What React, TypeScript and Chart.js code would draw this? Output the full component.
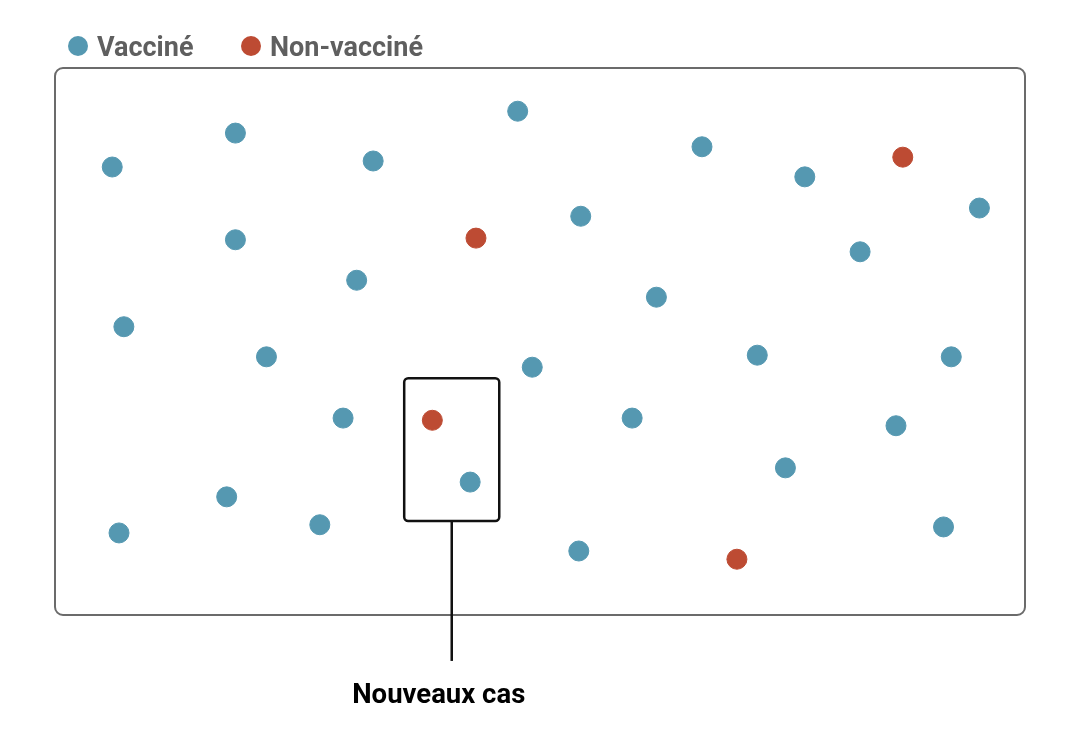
import React, { useEffect, useRef } from "react";
import { Chart, registerables } from "chart.js";

Chart.register(...registerables);

const seriesLabels = ["Vacciné", "Non-vacciné"];
const seriesColors = ["#5598B1", "#BD4B33"];

const vaccineX = [5.9, 18.6, 32.8, 47.7, 66.7, 77.3, 95.3, 54.2, 18.6, 83.0, 31.1, 62.0, 7.1, 21.8, 49.2, 72.4, 92.4, 29.7, 59.5, 86.7, 42.8, 75.3, 17.7, 27.3, 6.6, 54.0, 91.6];
const vaccineY = [81.9, 88.1, 83.0, 92.1, 85.6, 80.1, 74.4, 72.9, 68.6, 66.4, 61.2, 58.1, 52.7, 47.2, 45.3, 47.5, 47.2, 36.0, 36.0, 34.6, 24.3, 26.9, 21.6, 16.5, 15.0, 11.7, 16.1];

const unvaxX = [87.4, 43.4, 38.9, 70.3];
const unvaxY = [83.7, 68.9, 35.6, 10.2];

// highlight box: [xMin, xMax, yMin, yMax] in data units
const boxRange = [36.0, 45.8, 17.2, 43.3];
const calloutX = 40.9;
const calloutEndY = -8.4;
const calloutLabel = "Nouveaux cas";

const annotationPlugin = {
  id: "customDraw",
  beforeDatasetsDraw(chart: any) {
    const { ctx, chartArea } = chart;
    const { left, top, right, bottom } = chartArea;
    ctx.save();
    ctx.strokeStyle = "#6b6b6b";
    ctx.lineWidth = 2;
    ctx.beginPath();
    ctx.roundRect(left, top, right - left, bottom - top, 8);
    ctx.stroke();
    ctx.restore();
  },
  afterDatasetsDraw(chart: any) {
    const { ctx, scales } = chart;
    const xs = scales.x;
    const ys = scales.y;
    ctx.save();
    const x0 = xs.getPixelForValue(boxRange[0]);
    const x1 = xs.getPixelForValue(boxRange[1]);
    const y0 = ys.getPixelForValue(boxRange[3]);
    const y1 = ys.getPixelForValue(boxRange[2]);
    ctx.strokeStyle = "#111";
    ctx.lineWidth = 2.5;
    ctx.beginPath();
    ctx.roundRect(x0, y0, x1 - x0, y1 - y0, 4);
    ctx.stroke();
    const lx = xs.getPixelForValue(calloutX);
    const ly = ys.getPixelForValue(calloutEndY);
    ctx.lineWidth = 2.5;
    ctx.beginPath();
    ctx.moveTo(lx, y1 + 1);
    ctx.lineTo(lx, ly);
    ctx.stroke();
    ctx.fillStyle = "#000";
    ctx.font = "bold 27.5px Roboto";
    ctx.textAlign = "center";
    ctx.textBaseline = "middle";
    ctx.fillText(calloutLabel, lx - 13, ly + 35);

    // legend
    ctx.font = "bold 27px Roboto";
    ctx.textAlign = "left";
    let cx = 78;
    const cy = 46;
    chart.data.datasets.forEach((ds: any) => {
      ctx.fillStyle = ds.backgroundColor;
      ctx.beginPath();
      ctx.arc(cx, cy, 10, 0, Math.PI * 2);
      ctx.fill();
      ctx.fillStyle = "#5f5f5f";
      ctx.fillText(ds.label, cx + 19, cy + 3);
      cx += 173;
    });
    ctx.restore();
  },
};

export default function App() {
  const ref = useRef<HTMLCanvasElement>(null);
  useEffect(() => {
    document.body.style.margin = "0";
    const chart = new Chart(ref.current as HTMLCanvasElement, {
      type: "scatter",
      data: {
        datasets: [
          {
            label: seriesLabels[0],
            data: vaccineX.map((x, i) => ({ x, y: vaccineY[i] })),
            backgroundColor: seriesColors[0],
            borderColor: seriesColors[0],
            pointRadius: 10,
          },
          {
            label: seriesLabels[1],
            data: unvaxX.map((x, i) => ({ x, y: unvaxY[i] })),
            backgroundColor: seriesColors[1],
            borderColor: seriesColors[1],
            pointRadius: 10,
          },
        ],
      },
      options: {
        responsive: false,
        animation: false,
        layout: { padding: { left: 55, top: 68, right: 55, bottom: 124 } },
        scales: {
          x: { type: "linear", min: 0, max: 100, display: false },
          y: { type: "linear", min: 0, max: 100, display: false },
        },
        plugins: { legend: { display: false }, tooltip: { enabled: false } },
      },
      plugins: [annotationPlugin],
    });
    return () => chart.destroy();
  }, []);
  return (
    <div style={{ width: 1080, height: 739, background: "#fff" }}>
      <canvas ref={ref} width={1080} height={739} />
    </div>
  );
}
